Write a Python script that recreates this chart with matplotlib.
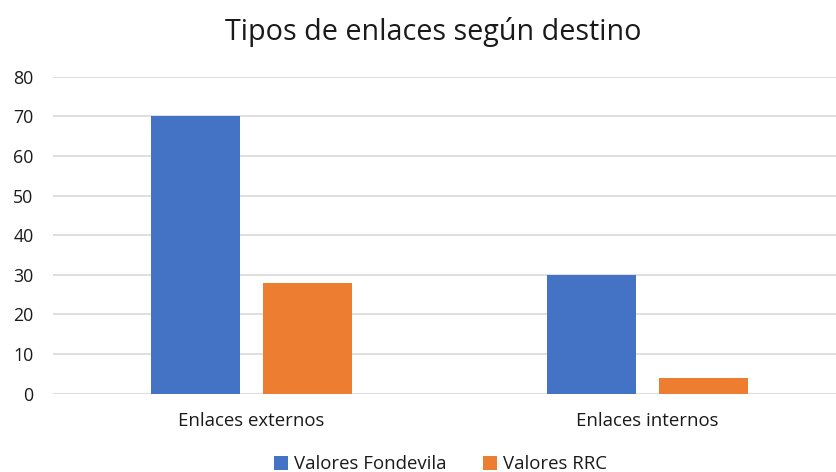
import numpy as np
import matplotlib
matplotlib.use('Agg')
import matplotlib.pyplot as plt

categories = ['Enlaces externos', 'Enlaces internos']
fondevila = [70, 30]
rrc = [28, 4]
series_names = ['Valores Fondevila', 'Valores RRC']
yticks = [0, 10, 20, 30, 40, 50, 60, 70, 80]

plt.rcParams['font.family'] = ['Open Sans', 'DejaVu Sans']

fig = plt.figure(figsize=(8.36, 4.72), dpi=100)
ax = fig.add_axes([53/836, 0.1663, 783/836, 0.8375 - 0.1663])

x = np.arange(len(categories))
w = 0.225
off = 0.142
b1 = ax.bar(x - off, fondevila, w, color='#4472C4', label=series_names[0], zorder=3)
b2 = ax.bar(x + off, rrc, w, color='#ED7D31', label=series_names[1], zorder=3)

ax.set_xlim(-0.502, 1.477)
ax.set_ylim(0, 80)
ax.set_yticks(yticks)
ax.set_xticks(x)
ax.set_xticklabels(categories, fontsize=13.4)
ax.yaxis.grid(True, color='#D9D9D9', linewidth=1.2, zorder=0)
for s in ax.spines.values():
    s.set_visible(False)
ax.tick_params(axis='both', length=0, colors='#1a1a1a')
ax.tick_params(axis='y', pad=14, labelsize=12.8)
ax.tick_params(axis='x', pad=13)

fig.text(0.518, 0.932, 'Tipos de enlaces según destino', ha='center', va='center',
         fontsize=20.7, color='#1a1a1a')

fig.legend(handles=[b1, b2], loc='center', bbox_to_anchor=(0.527, 0.016), ncol=2,
           frameon=False, fontsize=13.4, handlelength=0.75, handleheight=0.75,
           columnspacing=2.0, handletextpad=0.3, labelcolor='#1a1a1a')

fig.savefig('out.png', dpi=100)
